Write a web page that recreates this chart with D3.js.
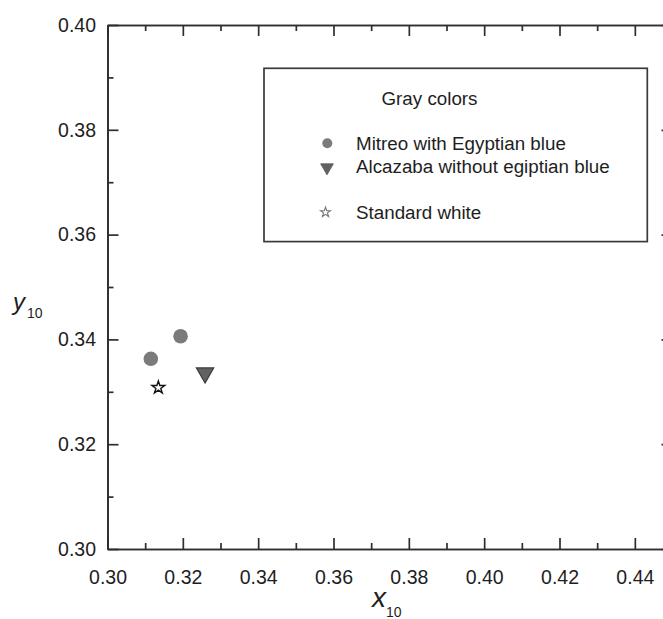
<!DOCTYPE html>
<html>
<head>
<meta charset="utf-8">
<script src="https://cdn.jsdelivr.net/npm/d3@7"></script>
<style>
  html, body { margin: 0; padding: 0; background: #fff; }
  svg { display: block; font-family: "Liberation Sans", Arial, sans-serif; }
</style>
</head>
<body>
<svg id="chart" width="663" height="619"></svg>
<script>
// Chromaticity coordinates (CIE 1964, 10° observer)
const seriesNames = ["Mitreo with Egyptian blue", "Alcazaba without egiptian blue", "Standard white"];
const mitreoX = [0.3115, 0.3194];
const mitreoY = [0.3363, 0.3406];
const alcazabaX = [0.3259];
const alcazabaY = [0.3336];
const whiteX = [0.3135];
const whiteY = [0.3308];

const xMajorTicks = [0.30, 0.32, 0.34, 0.36, 0.38, 0.40, 0.42, 0.44];
const xMinorTicks = [0.31, 0.33, 0.35, 0.37, 0.39, 0.41, 0.43, 0.45];
const yMajorTicks = [0.30, 0.32, 0.34, 0.36, 0.38, 0.40];
const yMinorTicks = [0.31, 0.33, 0.35, 0.37, 0.39];

const svg = d3.select("#chart");
const plotLeft = 107.5, plotRight = 672.5, plotTop = 25, plotBottom = 549;

const x = d3.scaleLinear().domain([0.30, 0.45]).range([plotLeft, plotRight]);
const y = d3.scaleLinear().domain([0.30, 0.40]).range([plotBottom, plotTop]);

const axisColor = "#2e2e2e";
const textColor = "#1e1e1e";
const fmt = d3.format(".2f");

function styleAxis(g) {
  g.select(".domain").attr("stroke", axisColor).attr("stroke-width", 1.7);
  g.selectAll(".tick line").attr("stroke", axisColor).attr("stroke-width", 1.7);
  g.selectAll(".tick text").attr("fill", textColor).style("font-size", "19.5px");
}

// bottom axis (labelled)
svg.append("g").attr("transform", `translate(0,${plotBottom})`)
  .call(d3.axisBottom(x).tickValues(xMajorTicks).tickFormat(fmt).tickSize(-11).tickSizeOuter(0).tickPadding(21))
  .call(styleAxis);
svg.append("g").attr("transform", `translate(0,${plotBottom})`)
  .call(d3.axisBottom(x).tickValues(xMinorTicks).tickFormat("").tickSize(-6).tickSizeOuter(0))
  .call(styleAxis);

// top axis
svg.append("g").attr("transform", `translate(0,${plotTop})`)
  .call(d3.axisTop(x).tickValues(xMajorTicks).tickFormat("").tickSize(-11).tickSizeOuter(0))
  .call(styleAxis);
svg.append("g").attr("transform", `translate(0,${plotTop})`)
  .call(d3.axisTop(x).tickValues(xMinorTicks).tickFormat("").tickSize(-6).tickSizeOuter(0))
  .call(styleAxis);

// left axis (labelled)
svg.append("g").attr("transform", `translate(${plotLeft},0)`)
  .call(d3.axisLeft(y).tickValues(yMajorTicks).tickFormat(fmt).tickSize(-11).tickSizeOuter(0).tickPadding(11.5))
  .call(styleAxis);
svg.append("g").attr("transform", `translate(${plotLeft},0)`)
  .call(d3.axisLeft(y).tickValues(yMinorTicks).tickFormat("").tickSize(-6).tickSizeOuter(0))
  .call(styleAxis);

// right axis
svg.append("g").attr("transform", `translate(${plotRight},0)`)
  .call(d3.axisRight(y).tickValues(yMajorTicks).tickFormat("").tickSize(-11).tickSizeOuter(0))
  .call(styleAxis);
svg.append("g").attr("transform", `translate(${plotRight},0)`)
  .call(d3.axisRight(y).tickValues(yMinorTicks).tickFormat("").tickSize(-6).tickSizeOuter(0))
  .call(styleAxis);

// axis titles
const xt = svg.append("text").attr("x", 372).attr("y", 606.5).attr("fill", textColor);
xt.append("tspan").text("x").style("font-style", "italic").style("font-size", "28px");
xt.append("tspan").text("10").attr("dy", 10).style("font-size", "14px");

const yt = svg.append("text").attr("x", 13).attr("y", 310).attr("fill", textColor);
yt.append("tspan").text("y").style("font-style", "italic").style("font-size", "24px");
yt.append("tspan").text("10").attr("dy", 8).attr("dx", 2).style("font-size", "14px");

// markers
const circleFill = "#7b7b7b";
const triFill = "#626262";

const pts = svg.append("g");
pts.selectAll("circle.mitreo").data(d3.zip(mitreoX, mitreoY)).join("circle")
  .attr("class", "mitreo")
  .attr("cx", d => x(d[0])).attr("cy", d => y(d[1])).attr("r", 7.3)
  .attr("fill", circleFill);

const triSym = d3.symbol().type(d3.symbolTriangle).size(130);
pts.selectAll("path.alcazaba").data(d3.zip(alcazabaX, alcazabaY)).join("path")
  .attr("class", "alcazaba")
  .attr("d", triSym)
  .attr("transform", d => `translate(${x(d[0])},${y(d[1])}) rotate(180)`)
  .attr("fill", triFill).attr("stroke", "#3a3a3a").attr("stroke-width", 1.2);

const starSym = d3.symbol().type(d3.symbolStar).size(50);
pts.selectAll("path.white").data(d3.zip(whiteX, whiteY)).join("path")
  .attr("class", "white")
  .attr("d", starSym)
  .attr("transform", d => `translate(${x(d[0])},${y(d[1])})`)
  .attr("fill", "#fff").attr("stroke", "#111").attr("stroke-width", 1.4);

// legend
const lg = svg.append("g");
lg.append("rect").attr("x", 264).attr("y", 68.3).attr("width", 383.3).attr("height", 173.3)
  .attr("fill", "#fff").attr("stroke", "#3a3a3a").attr("stroke-width", 1.7);
lg.append("text").attr("x", 429.5).attr("y", 104.5).attr("text-anchor", "middle")
  .attr("fill", textColor).style("font-size", "18.8px").text("Gray colors");

const legendRows = [
  { name: seriesNames[0], y: 150, my: 143.3 },
  { name: seriesNames[1], y: 173, my: 167.5 },
  { name: seriesNames[2], y: 219, my: 212.3 }
];
legendRows.forEach(r => {
  lg.append("text").attr("x", 356).attr("y", r.y).attr("fill", textColor)
    .style("font-size", "18.8px").text(r.name);
});
lg.append("circle").attr("cx", 327.3).attr("cy", legendRows[0].my).attr("r", 5).attr("fill", circleFill);
lg.append("path").attr("d", d3.symbol().type(d3.symbolTriangle).size(70))
  .attr("transform", `translate(327,${legendRows[1].my}) rotate(180)`)
  .attr("fill", triFill).attr("stroke", "#555").attr("stroke-width", 0.8);
lg.append("path").attr("d", d3.symbol().type(d3.symbolStar).size(31))
  .attr("transform", `translate(325.5,${legendRows[2].my})`)
  .attr("fill", "#fff").attr("stroke", "#777").attr("stroke-width", 1.1);
</script>
</body>
</html>
